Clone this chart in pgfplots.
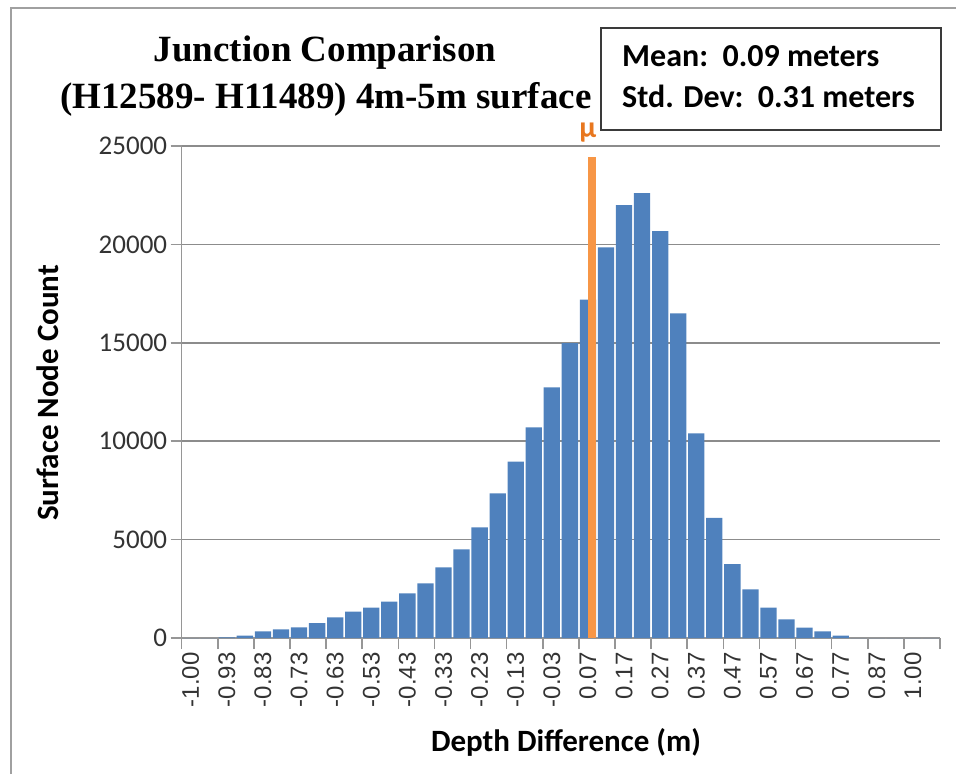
\documentclass[border=0pt]{standalone}
\usepackage{pgfplots}
\pgfplotsset{compat=1.18}
\usepackage{fontspec}
\setmainfont{Carlito}
\newfontfamily\titlefont{Liberation Serif}
\newfontfamily\tickfont{Liberation Sans}
\definecolor{barblue}{HTML}{4F81BD}
\definecolor{meanorange}{HTML}{F79646}
\definecolor{muorange}{HTML}{E8771F}
\definecolor{gridgray}{HTML}{8C8C8C}
\definecolor{axisgray}{HTML}{969696}
\definecolor{framegray}{HTML}{A0A0A0}
\definecolor{boxgray}{HTML}{3A3A3A}
\definecolor{ticktext}{HTML}{333333}
\begin{document}
\begin{tikzpicture}[x=1pt,y=1pt]
\path[use as bounding box] (0,0) rectangle (956,774);
\draw[color=framegray, line width=1.5pt] (11,0) -- (11,766) -- (956,766);
\begin{axis}[
  at={(181.7pt,136pt)}, anchor=south west,
  scale only axis, width=758.3pt, height=492pt,
  xmin=-0.5, xmax=41.5, ymin=0, ymax=25000,
  clip=false,
  axis lines*=left,
  axis line style={draw=axisgray, line width=1.5pt},
  ytick={0,5000,...,25000},
  scaled y ticks=false,
  ymajorgrids, grid style={draw=gridgray, line width=1.5pt},
  tick style={draw=axisgray, line width=1.5pt},
  tick align=outside,
  major tick length=11pt,
  yticklabel style={font=\fontsize{27}{27}\selectfont, text=ticktext},
  /pgf/number format/1000 sep={},
  /pgf/number format/assume math mode=true,
  xtick={-0.5,1.5,...,41.5},
  xticklabels={},
  extra x ticks={0,2,...,40},
  extra x tick labels={-1.00,-0.93,-0.83,-0.73,-0.63,-0.53,-0.43,-0.33,-0.23,-0.13,-0.03,0.07,0.17,0.27,0.37,0.47,0.57,0.67,0.77,0.87,1.00},
  extra x tick style={tick style={draw=none}, grid=none,
    xticklabel style={rotate=90, anchor=east, font=\tickfont\fontsize{24}{24}\selectfont, text=ticktext}},
]
\addplot[ybar, bar width=16.3pt, fill=barblue, draw=none] coordinates {
(0,0) (1,0) (2,30) (3,120) (4,340) (5,440) (6,545) (7,750) (8,1050) (9,1340)
(10,1540) (11,1845) (12,2270) (13,2780) (14,3590) (15,4500) (16,5625) (17,7350)
(18,8960) (19,10700) (20,12740) (21,14980) (22,17200) (23,19850) (24,21990)
(25,22600) (26,20680) (27,16500) (28,10400) (29,6110) (30,3760) (31,2470)
(32,1540) (33,950) (34,525) (35,340) (36,120) (37,0) (38,0) (39,0) (40,0) (41,0)
};
\addplot[meanorange, line width=8pt] coordinates {(22.23,0) (22.23,24450)};
\node[text=muorange, font=\bfseries\fontsize{30}{30}\selectfont, inner sep=0pt, anchor=base] at (axis cs:22.0,25000) [yshift=8pt] {μ};
\end{axis}
\node[font=\titlefont\bfseries\fontsize{37}{44}\selectfont, anchor=base, inner sep=0pt] at (325,712) {Junction Comparison};
\node[font=\titlefont\bfseries\fontsize{37}{44}\selectfont, anchor=base, inner sep=0pt] at (326,665) {(H12589- H11489) 4m-5m surface};
\draw[color=boxgray, line width=2pt, fill=white] (601,746) rectangle (940.7,644);
\node[font=\bfseries\fontsize{32}{32}\selectfont, anchor=base west, inner sep=0pt] at (622,707) {Mean:\ \ 0.09 meters};
\node[font=\bfseries\fontsize{32}{32}\selectfont, anchor=base west, inner sep=0pt] at (622,666) {Std. Dev:\ \ 0.31 meters};
\node[font=\bfseries\fontsize{31}{31}\selectfont, rotate=90, inner sep=0pt] at (48,381) {Surface Node Count};
\node[font=\bfseries\fontsize{31}{31}\selectfont, inner sep=0pt] at (566,32) {Depth Difference (m)};
\end{tikzpicture}
\end{document}
